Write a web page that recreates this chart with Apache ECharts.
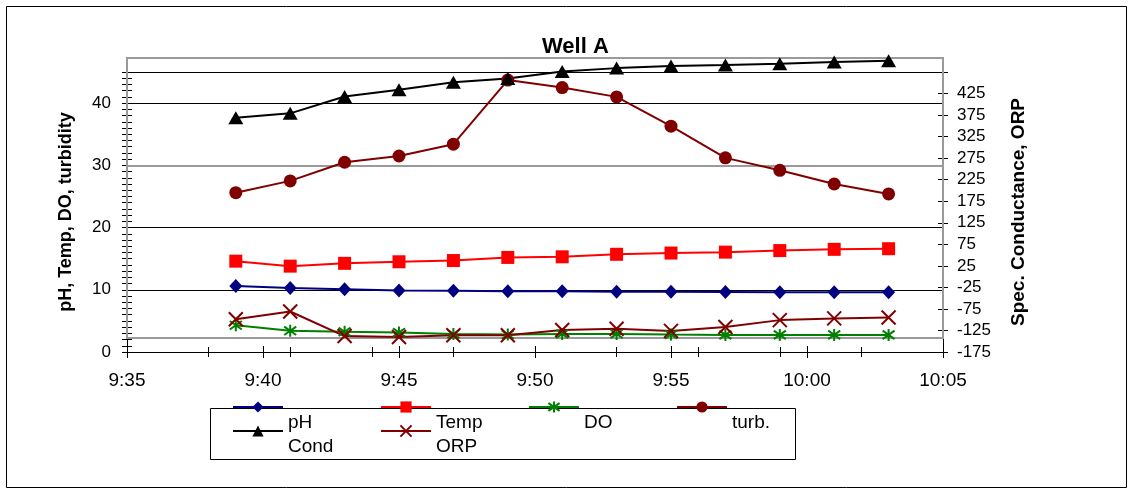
<!DOCTYPE html>
<html>
<head>
<meta charset="utf-8">
<script src="https://cdn.jsdelivr.net/npm/echarts@6/dist/echarts.min.js"></script>
<style>
html,body{margin:0;padding:0;background:#fff;}
#chart{width:1133px;height:495px;}
</style>
</head>
<body>
<div id="chart"></div>
<script>
// ---- data ----
var times = ['9:39','9:41','9:43','9:45','9:47','9:49','9:51','9:53','9:55','9:57','9:59','10:01','10:03'];
var pH    = [10.6, 10.3, 10.1, 9.9, 9.85, 9.75, 9.75, 9.7, 9.7, 9.65, 9.6, 9.6, 9.6];
var temp  = [14.6, 13.8, 14.25, 14.5, 14.7, 15.2, 15.3, 15.7, 15.9, 16.05, 16.3, 16.5, 16.6];
var DO    = [4.3, 3.4, 3.25, 3.15, 2.9, 2.8, 2.9, 2.9, 2.8, 2.75, 2.75, 2.75, 2.75];
var turb  = [25.6, 27.5, 30.5, 31.5, 33.4, 43.7, 42.5, 41.0, 36.3, 31.2, 29.2, 27.0, 25.4];
var cond  = [369, 379, 418, 434, 451, 460, 476, 484, 489, 491, 494, 498, 501];
var orp   = [-99, -81, -138, -140, -136, -136, -124, -121, -126, -117, -101, -97, -95];
var seriesNames = ['pH', 'Temp', 'DO', 'turb.', 'Cond', 'ORP'];
var xTickLabels = ['9:35','9:40','9:45','9:50','9:55','10:00','10:05'];

function toMin(t){ var p = t.split(':'); return (+p[0])*60 + (+p[1]); }
function fmt(v){ var h = Math.floor(v/60), m = Math.round(v - h*60); return h + ':' + (m < 10 ? '0' : '') + m; }
function pts(arr){ return arr.map(function(v,i){ return [toMin(times[i]), v]; }); }

var xMin = toMin(xTickLabels[0]), xMax = toMin(xTickLabels[xTickLabels.length-1]);
var FONT = 'Liberation Sans, Arial, sans-serif';

var chart = echarts.init(document.getElementById('chart'), null, {renderer:'canvas'});

function xAx(extra){
  var base = {type:'value', position:'bottom', gridIndex:0, min:xMin, max:xMax, interval:5,
    axisLine:{show:false, onZero:false}, splitLine:{show:false}, axisLabel:{show:false}, axisTick:{show:false}};
  return Object.assign(base, extra);
}
function yAx(extra){
  var base = {type:'value', gridIndex:0, axisLine:{show:false, onZero:false}, splitLine:{show:false},
    axisLabel:{show:false}, axisTick:{show:false}};
  return Object.assign(base, extra);
}
var tickStyle = {color:'#000', width:1};
var STAR = 'path://M5,0L5,10M0,1.5L10,8.5M10,1.5L0,8.5';
var CROSS = 'path://M0,0L10,10M10,0L0,10';
var legendText = {fontFamily:FONT, fontSize:19, color:'#000', width:92, lineHeight:32};
function legendFmt(n){ return '\n' + n; }

var option = {
  backgroundColor:'#fff',
  animation:false,
  textStyle:{fontFamily:FONT},
  title:{text:'Well A', left:542, top:36, padding:0,
    textStyle:{fontFamily:FONT, fontSize:22, fontWeight:'bold', color:'#000'}},
  grid:{left:127, top:72, width:816, height:280, containLabel:false},
  legend:[
    {data:seriesNames.slice(0,4), left:232, top:375, padding:0, itemGap:0, itemWidth:50, itemHeight:14,
     selectedMode:false, z:20, formatter:legendFmt, textStyle:legendText},
    {data:seriesNames.slice(4), left:232, top:399, padding:0, itemGap:0, itemWidth:50, itemHeight:14,
     selectedMode:false, z:20, formatter:legendFmt, textStyle:legendText}
  ],
  xAxis:[
    xAx({axisLine:{show:true, onZero:false, lineStyle:{color:'#000', width:1}},
         axisLabel:{show:true, formatter:fmt, fontFamily:FONT, fontSize:19, color:'#000', margin:19}}),
    xAx({axisTick:{show:true, inside:false, length:6, lineStyle:tickStyle}}),
    xAx({axisTick:{show:true, inside:true, length:6, lineStyle:tickStyle}}),
    xAx({min:0, max:xMax-xMin, interval:3, axisTick:{show:true, inside:false, length:5, lineStyle:tickStyle}}),
    xAx({min:0, max:xMax-xMin, interval:3, axisTick:{show:true, inside:true, length:5, lineStyle:tickStyle}})
  ],
  yAxis:[
    yAx({position:'left', min:0, max:45, interval:10,
      axisLine:{show:true, onZero:false, lineStyle:{color:'#000', width:1}},
      splitLine:{show:true, lineStyle:{color:'#000', width:1}},
      axisLabel:{show:true, showMaxLabel:false, fontFamily:FONT, fontSize:17, color:'#000', margin:16},
      name:'pH, Temp, DO, turbidity', nameLocation:'middle', nameRotate:90, nameGap:52,
      nameTextStyle:{fontFamily:FONT, fontSize:18, fontWeight:'bold', color:'#000'}}),
    yAx({position:'right', min:-175, max:475, interval:50,
      axisLine:{show:true, onZero:false, lineStyle:{color:'#000', width:1}},
      axisLabel:{show:true, showMaxLabel:false, fontFamily:FONT, fontSize:17, color:'#000', margin:14},
      name:'Spec. Conductance, ORP', nameLocation:'middle', nameRotate:90, nameGap:66,
      nameTextStyle:{fontFamily:FONT, fontSize:19, fontWeight:'bold', color:'#000'}}),
    yAx({position:'left', min:0, max:45, interval:1, axisTick:{show:true, inside:false, length:5, lineStyle:tickStyle}}),
    yAx({position:'left', min:0, max:45, interval:1, axisTick:{show:true, inside:true, length:5, lineStyle:tickStyle}}),
    yAx({position:'right', min:-175, max:475, interval:50, axisTick:{show:true, inside:false, length:5, lineStyle:tickStyle}}),
    yAx({position:'right', min:-175, max:475, interval:50, axisTick:{show:true, inside:true, length:5, lineStyle:tickStyle}})
  ],
  graphic:[
    {type:'rect', shape:{x:6.5, y:6.5, width:1120, height:481}, style:{fill:'none', stroke:'#000', lineWidth:1}, z:-10, silent:true},
    {type:'rect', shape:{x:127, y:58, width:816, height:280}, style:{fill:'none', stroke:'#9a9a9a', lineWidth:2}, z:1, silent:true},
    {type:'line', shape:{x1:127, y1:166, x2:943, y2:166}, style:{stroke:'#9a9a9a', lineWidth:2}, z:1, silent:true},
    {type:'rect', shape:{x:210.5, y:408.5, width:585, height:51}, style:{fill:'#fff', stroke:'#000', lineWidth:1}, z:5, silent:true}
  ],
  series:[
    {name:'pH', type:'line', xAxisIndex:0, yAxisIndex:0, data:pts(pH), clip:false,
     symbol:'diamond', symbolSize:[13,14], color:'#000080',
     lineStyle:{width:2, color:'#000080'}, itemStyle:{color:'#000080'}, z:3},
    {name:'Temp', type:'line', xAxisIndex:0, yAxisIndex:0, data:pts(temp), clip:false,
     symbol:'rect', symbolSize:13, color:'#ff0000',
     lineStyle:{width:2, color:'#ff0000'}, itemStyle:{color:'#ff0000'}, z:3},
    {name:'DO', type:'line', xAxisIndex:0, yAxisIndex:0, data:pts(DO), clip:false,
     symbol:STAR, symbolSize:12, color:'#008000',
     lineStyle:{width:2, color:'#008000'}, itemStyle:{color:'#008000', borderColor:'#008000', borderWidth:2}, z:3},
    {name:'turb.', type:'line', xAxisIndex:0, yAxisIndex:0, data:pts(turb), clip:false,
     symbol:'circle', symbolSize:13, color:'#800000',
     lineStyle:{width:2, color:'#800000'}, itemStyle:{color:'#800000'}, z:3},
    {name:'Cond', type:'line', xAxisIndex:0, yAxisIndex:1, data:pts(cond), clip:false,
     symbol:'triangle', symbolSize:[15,13], color:'#000000',
     lineStyle:{width:2, color:'#000000'}, itemStyle:{color:'#000000'}, z:3},
    {name:'ORP', type:'line', xAxisIndex:0, yAxisIndex:1, data:pts(orp), clip:false,
     symbol:CROSS, symbolSize:14, color:'#800000',
     lineStyle:{width:2, color:'#800000'}, itemStyle:{color:'#800000', borderColor:'#800000', borderWidth:2}, z:3}
  ]
};
chart.setOption(option);
</script>
</body>
</html>
